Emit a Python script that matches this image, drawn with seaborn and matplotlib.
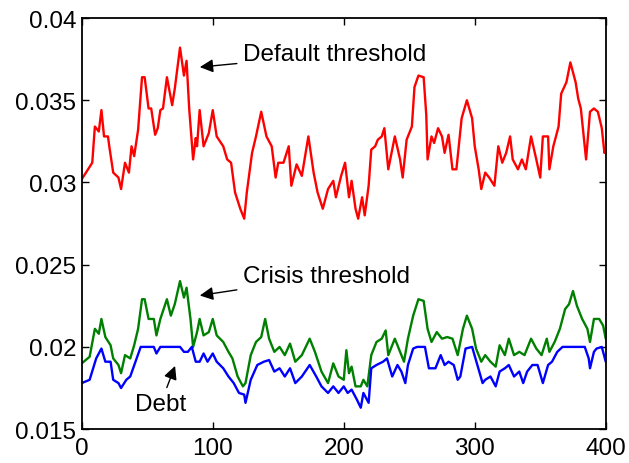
import pandas as pd
import seaborn as sns
import matplotlib
matplotlib.use("Agg")
import matplotlib.pyplot as plt

# values
default_x = [0, 4, 8, 10, 13, 15, 17, 20, 21, 24, 28, 30, 33, 36, 38, 40, 43, 46, 48, 51,
             53, 56, 58, 60, 62, 65, 69, 71, 75, 78, 80, 82, 85, 87, 88, 90, 93, 97, 100, 103,
             108, 111, 114, 117, 121, 124, 126, 130, 133, 137, 141, 145, 148, 150, 154, 158, 160, 164, 168, 173,
             177, 180, 184, 188, 192, 194, 198, 201, 204, 206, 209, 211, 214, 216, 219, 221, 224, 226, 229, 231,
             234, 239, 243, 245, 248, 252, 254, 257, 261, 263, 264, 267, 269, 272, 275, 277, 280, 283, 286, 290,
             294, 298, 300, 303, 305, 308, 311, 315, 318, 321, 324, 327, 329, 333, 336, 339, 343, 347, 350, 352,
             356, 357, 360, 364, 366, 370, 373, 377, 379, 381, 385, 388, 391, 394, 397, 399, 400]
default_y = [.0302, .0307, .0312, .0334, .0331, .0344, .0328, .0328, .0322, .0306, .0303, .0296, .0312, .0306, .0322, .0316, .0332, .0364, .0364, .0345,
             .0345, .0329, .0333, .0344, .0345, .0364, .0347, .0357, .0382, .0365, .0374, .0345, .0314, .0327, .0322, .0344, .0322, .0330, .0344, .0328,
             .0322, .0314, .0312, .0294, .0284, .0278, .0294, .0318, .0328, .0343, .0328, .0322, .0303, .0312, .0312, .0322, .0298, .0311, .0304, .0328,
             .0306, .0294, .0284, .0296, .0301, .0291, .0304, .0312, .0291, .0301, .0284, .0278, .0291, .0280, .0298, .0320, .0322, .0326, .0328, .0333,
             .0308, .0328, .0314, .0303, .0326, .0334, .0358, .0365, .0364, .0341, .0314, .0328, .0324, .0333, .0328, .0318, .0329, .0308, .0308, .0339,
             .0350, .0339, .0322, .0308, .0296, .0306, .0303, .0298, .0322, .0312, .0318, .0328, .0314, .0308, .0314, .0308, .0328, .0314, .0303, .0328,
             .0328, .0308, .0322, .0334, .0354, .0361, .0373, .0361, .0351, .0345, .0314, .0343, .0345, .0343, .0333, .0318, .0320]

crisis_x = [0, 6, 10, 13, 15, 18, 22, 24, 28, 30, 33, 37, 40, 43, 46, 48, 51, 55, 57, 60,
            65, 68, 71, 75, 78, 80, 83, 85, 88, 90, 93, 97, 100, 103, 108, 112, 115, 119, 123, 125,
            129, 133, 137, 140, 143, 147, 151, 155, 159, 163, 168, 174, 178, 183, 188, 192, 196, 200, 202, 204,
            206, 209, 213, 215, 218, 221, 225, 229, 232, 234, 239, 243, 246, 249, 253, 257, 261, 264, 267, 271,
            275, 279, 283, 287, 291, 294, 298, 301, 305, 308, 312, 316, 319, 323, 326, 330, 334, 338, 343, 347,
            351, 355, 357, 361, 365, 369, 372, 375, 378, 382, 386, 388, 391, 395, 398, 400]
crisis_y = [.0190, .0194, .0211, .0208, .0217, .0206, .0201, .0193, .0189, .0184, .0195, .0193, .0201, .0211, .0229, .0229, .0217, .0217, .0207, .0217,
            .0229, .0219, .0226, .0240, .0230, .0236, .0217, .0200, .0209, .0217, .0207, .0209, .0217, .0207, .0203, .0197, .0193, .0182, .0176, .0178,
            .0195, .0203, .0206, .0217, .0205, .0197, .0200, .0195, .0202, .0191, .0195, .0205, .0197, .0185, .0178, .0190, .0182, .0180, .0198, .0184,
            .0188, .0176, .0176, .0180, .0176, .0195, .0203, .0205, .0210, .0195, .0205, .0197, .0191, .0205, .0219, .0229, .0228, .0211, .0203, .0209,
            .0205, .0206, .0205, .0195, .0211, .0219, .0211, .0199, .0191, .0195, .0191, .0188, .0201, .0195, .0205, .0195, .0197, .0195, .0205, .0199,
            .0195, .0205, .0197, .0203, .0211, .0223, .0226, .0234, .0225, .0217, .0211, .0203, .0217, .0217, .0213, .0205]

debt_x = [0, 6, 11, 15, 18, 22, 24, 28, 30, 34, 37, 41, 45, 48, 55, 57, 60, 65, 75, 78,
          81, 84, 87, 90, 93, 96, 100, 103, 108, 112, 116, 120, 124, 125, 129, 134, 139, 143, 147, 151,
          155, 159, 163, 168, 174, 179, 183, 188, 192, 196, 200, 203, 206, 210, 213, 215, 219, 221, 225, 230,
          233, 237, 241, 244, 247, 249, 253, 256, 262, 265, 270, 274, 277, 280, 284, 287, 289, 293, 298, 302,
          306, 308, 312, 316, 319, 323, 326, 330, 334, 337, 340, 344, 348, 352, 356, 359, 363, 367, 384, 387,
          388, 391, 393, 397, 400]
debt_y = [.0178, .0180, .0193, .0199, .0191, .0191, .0180, .0178, .0175, .0180, .0182, .0191, .0200, .0200, .0200, .0196, .0200, .0200, .0200, .0197,
          .0197, .0200, .0191, .0191, .0196, .0191, .0196, .0191, .0187, .0182, .0178, .0172, .0171, .0166, .0180, .0189, .0191, .0192, .0185, .0187,
          .0182, .0187, .0178, .0182, .0189, .0182, .0176, .0172, .0176, .0172, .0176, .0172, .0174, .0168, .0163, .0172, .0166, .0187, .0189, .0191,
          .0193, .0182, .0189, .0185, .0178, .0189, .0199, .0200, .0200, .0187, .0187, .0195, .0189, .0191, .0189, .0180, .0182, .0199, .0200, .0189,
          .0178, .0180, .0182, .0176, .0185, .0187, .0189, .0182, .0185, .0178, .0185, .0189, .0189, .0178, .0189, .0191, .0197, .0200, .0200, .0193,
          .0187, .0197, .0199, .0200, .0191]

x_ticks = [0, 100, 200, 300, 400]
y_ticks = [0.015, 0.02, 0.025, 0.03, 0.035, 0.04]
y_tick_labels = ["0.015", "0.02", "0.025", "0.03", "0.035", "0.04"]

sns.set_style("ticks")
plt.rcParams['font.family'] = ['Liberation Sans', 'DejaVu Sans']
plt.rcParams['xtick.direction'] = 'in'
plt.rcParams['ytick.direction'] = 'in'
plt.rcParams['text.color'] = 'black'
plt.rcParams['xtick.color'] = 'black'
plt.rcParams['ytick.color'] = 'black'

fig = plt.figure(figsize=(6.29, 4.64), dpi=100)
ax = fig.add_axes([0.130, 0.073, 0.833, 0.886])

series = [
    (default_x, default_y, "#ff0000"),
    (crisis_x, crisis_y, "#008000"),
    (debt_x, debt_y, "#0000ff"),
]
for xs, ys, col in series:
    df = pd.DataFrame({"t": xs, "v": ys})
    sns.lineplot(data=df, x="t", y="v", color=col, linewidth=1.7, ax=ax)

ax.set_xlim(0, 400)
ax.set_ylim(0.015, 0.04)
ax.set_xticks(x_ticks)
ax.set_xticklabels([str(t) for t in x_ticks])
ax.set_yticks(y_ticks)
ax.set_yticklabels(y_tick_labels)
ax.tick_params(labelsize=17.5, top=True, right=True, length=5, width=1,
               colors="black", labelcolor="black")
ax.tick_params(axis="x", pad=6)
ax.tick_params(axis="y", pad=4)
ax.set_xlabel("")
ax.set_ylabel("")
for s in ax.spines.values():
    s.set_linewidth(1.3)
    s.set_color("black")

arrow = dict(arrowstyle="-|>", color="black", lw=1.0, mutation_scale=20)
ax.annotate("Default threshold", xy=(88, 0.0370), xytext=(123, 0.0378),
            fontsize=17.5, va="center", ha="left", color="black", arrowprops=arrow)
ax.annotate("Crisis threshold", xy=(88, 0.0231), xytext=(123, 0.0243),
            fontsize=17.5, va="center", ha="left", color="black", arrowprops=arrow)
ax.annotate("Debt", xy=(72, 0.0190), xytext=(60, 0.0165),
            fontsize=17.5, va="center", ha="center", color="black", arrowprops=arrow)

fig.savefig("out.png", dpi=100)
